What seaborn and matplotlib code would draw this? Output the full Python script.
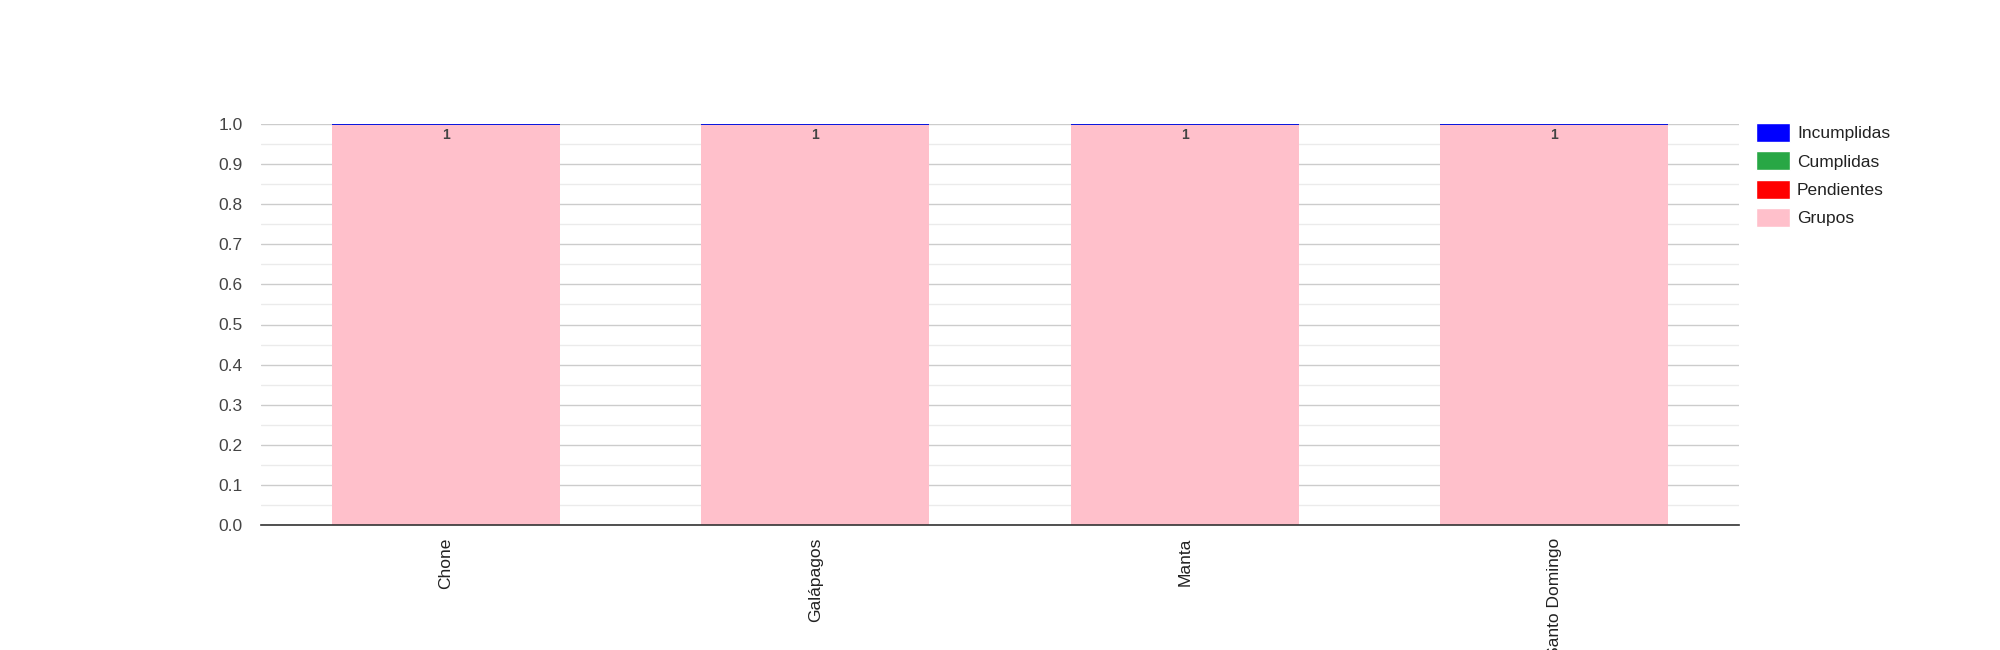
import numpy as np
import pandas as pd
import matplotlib.pyplot as plt
import seaborn as sns
from matplotlib.patches import Patch
from matplotlib.ticker import MultipleLocator

### DATA ###

sedes = ["Chone", "Galápagos", "Manta", "Santo Domingo"]
grupos = [1, 1, 1, 1]
pendientes = [0, 0, 0, 0]
cumplidas = [0, 0, 0, 0]
incumplidas = [0, 0, 0, 0]

series = [
    ("Grupos", grupos, "#ffc0cb"),
    ("Pendientes", pendientes, "#ff0000"),
    ("Cumplidas", cumplidas, "#28a745"),
    ("Incumplidas", incumplidas, "#0000ff"),
]

### PLOT ###

sns.set_theme(style="white")
plt.rcParams['font.family'] = ['Liberation Sans', 'DejaVu Sans']

fig = plt.figure(figsize=(20, 6.5), dpi=100)
ax = fig.add_axes([261 / 2000, 1 - 525 / 650, (1739 - 261) / 2000, (525 - 124) / 650])

bottom = np.zeros(len(sedes))
containers = {}
for name, vals, color in series:
    df = pd.DataFrame({"sede": sedes, "valor": vals})
    sns.barplot(
        data=df, x="sede", y="valor", color=color, ax=ax,
        width=0.617, bottom=bottom, saturation=1,
        edgecolor=color if name != "Grupos" else "none",
        linewidth=1.2 if name != "Grupos" else 0,
        errorbar=None
    )
    containers[name] = ax.containers[-1]
    bottom = bottom + np.array(vals)

# value labels inside top of bars
ax.bar_label(
    containers["Grupos"], labels=[str(v) for v in grupos],
    padding=-13, fontsize=10, fontweight='bold', color='#444444'
)

ax.set_ylim(0, 1.0)
ax.set_xlim(-0.5, len(sedes) - 0.5)
ax.yaxis.set_major_locator(MultipleLocator(0.1))
ax.yaxis.set_minor_locator(MultipleLocator(0.05))
ax.set_yticks(np.arange(0, 1.01, 0.1))
ax.set_yticklabels([f"{v:.1f}" for v in np.arange(0, 1.01, 0.1)])
ax.grid(axis='y', which='major', color='#cccccc', linewidth=1)
ax.grid(axis='y', which='minor', color='#ebebeb', linewidth=1)
ax.set_axisbelow(True)

for s in ['top', 'right', 'left']:
    ax.spines[s].set_visible(False)
ax.spines['bottom'].set_color('#333333')
ax.spines['bottom'].set_linewidth(1.2)

ax.tick_params(axis='y', length=0, labelsize=12.5, labelcolor='#444444', pad=13)
ax.tick_params(axis='x', length=0, labelsize=12.5, labelcolor='#222222', pad=9)
plt.setp(ax.get_xticklabels(), rotation=90, va='top')
ax.set_xlabel("")
ax.set_ylabel("")

handles = [
    Patch(facecolor="#0000ff", label="Incumplidas"),
    Patch(facecolor="#28a745", label="Cumplidas"),
    Patch(facecolor="#ff0000", label="Pendientes"),
    Patch(facecolor="#ffc0cb", label="Grupos"),
]
ax.legend(
    handles=handles, loc='upper left', bbox_to_anchor=(1.001, 1.041),
    frameon=False, fontsize=12.5, handlelength=1.95, handleheight=1.3,
    handletextpad=0.4, labelspacing=0.54, labelcolor='#222222'
)

fig.savefig("out.png", dpi=100)
